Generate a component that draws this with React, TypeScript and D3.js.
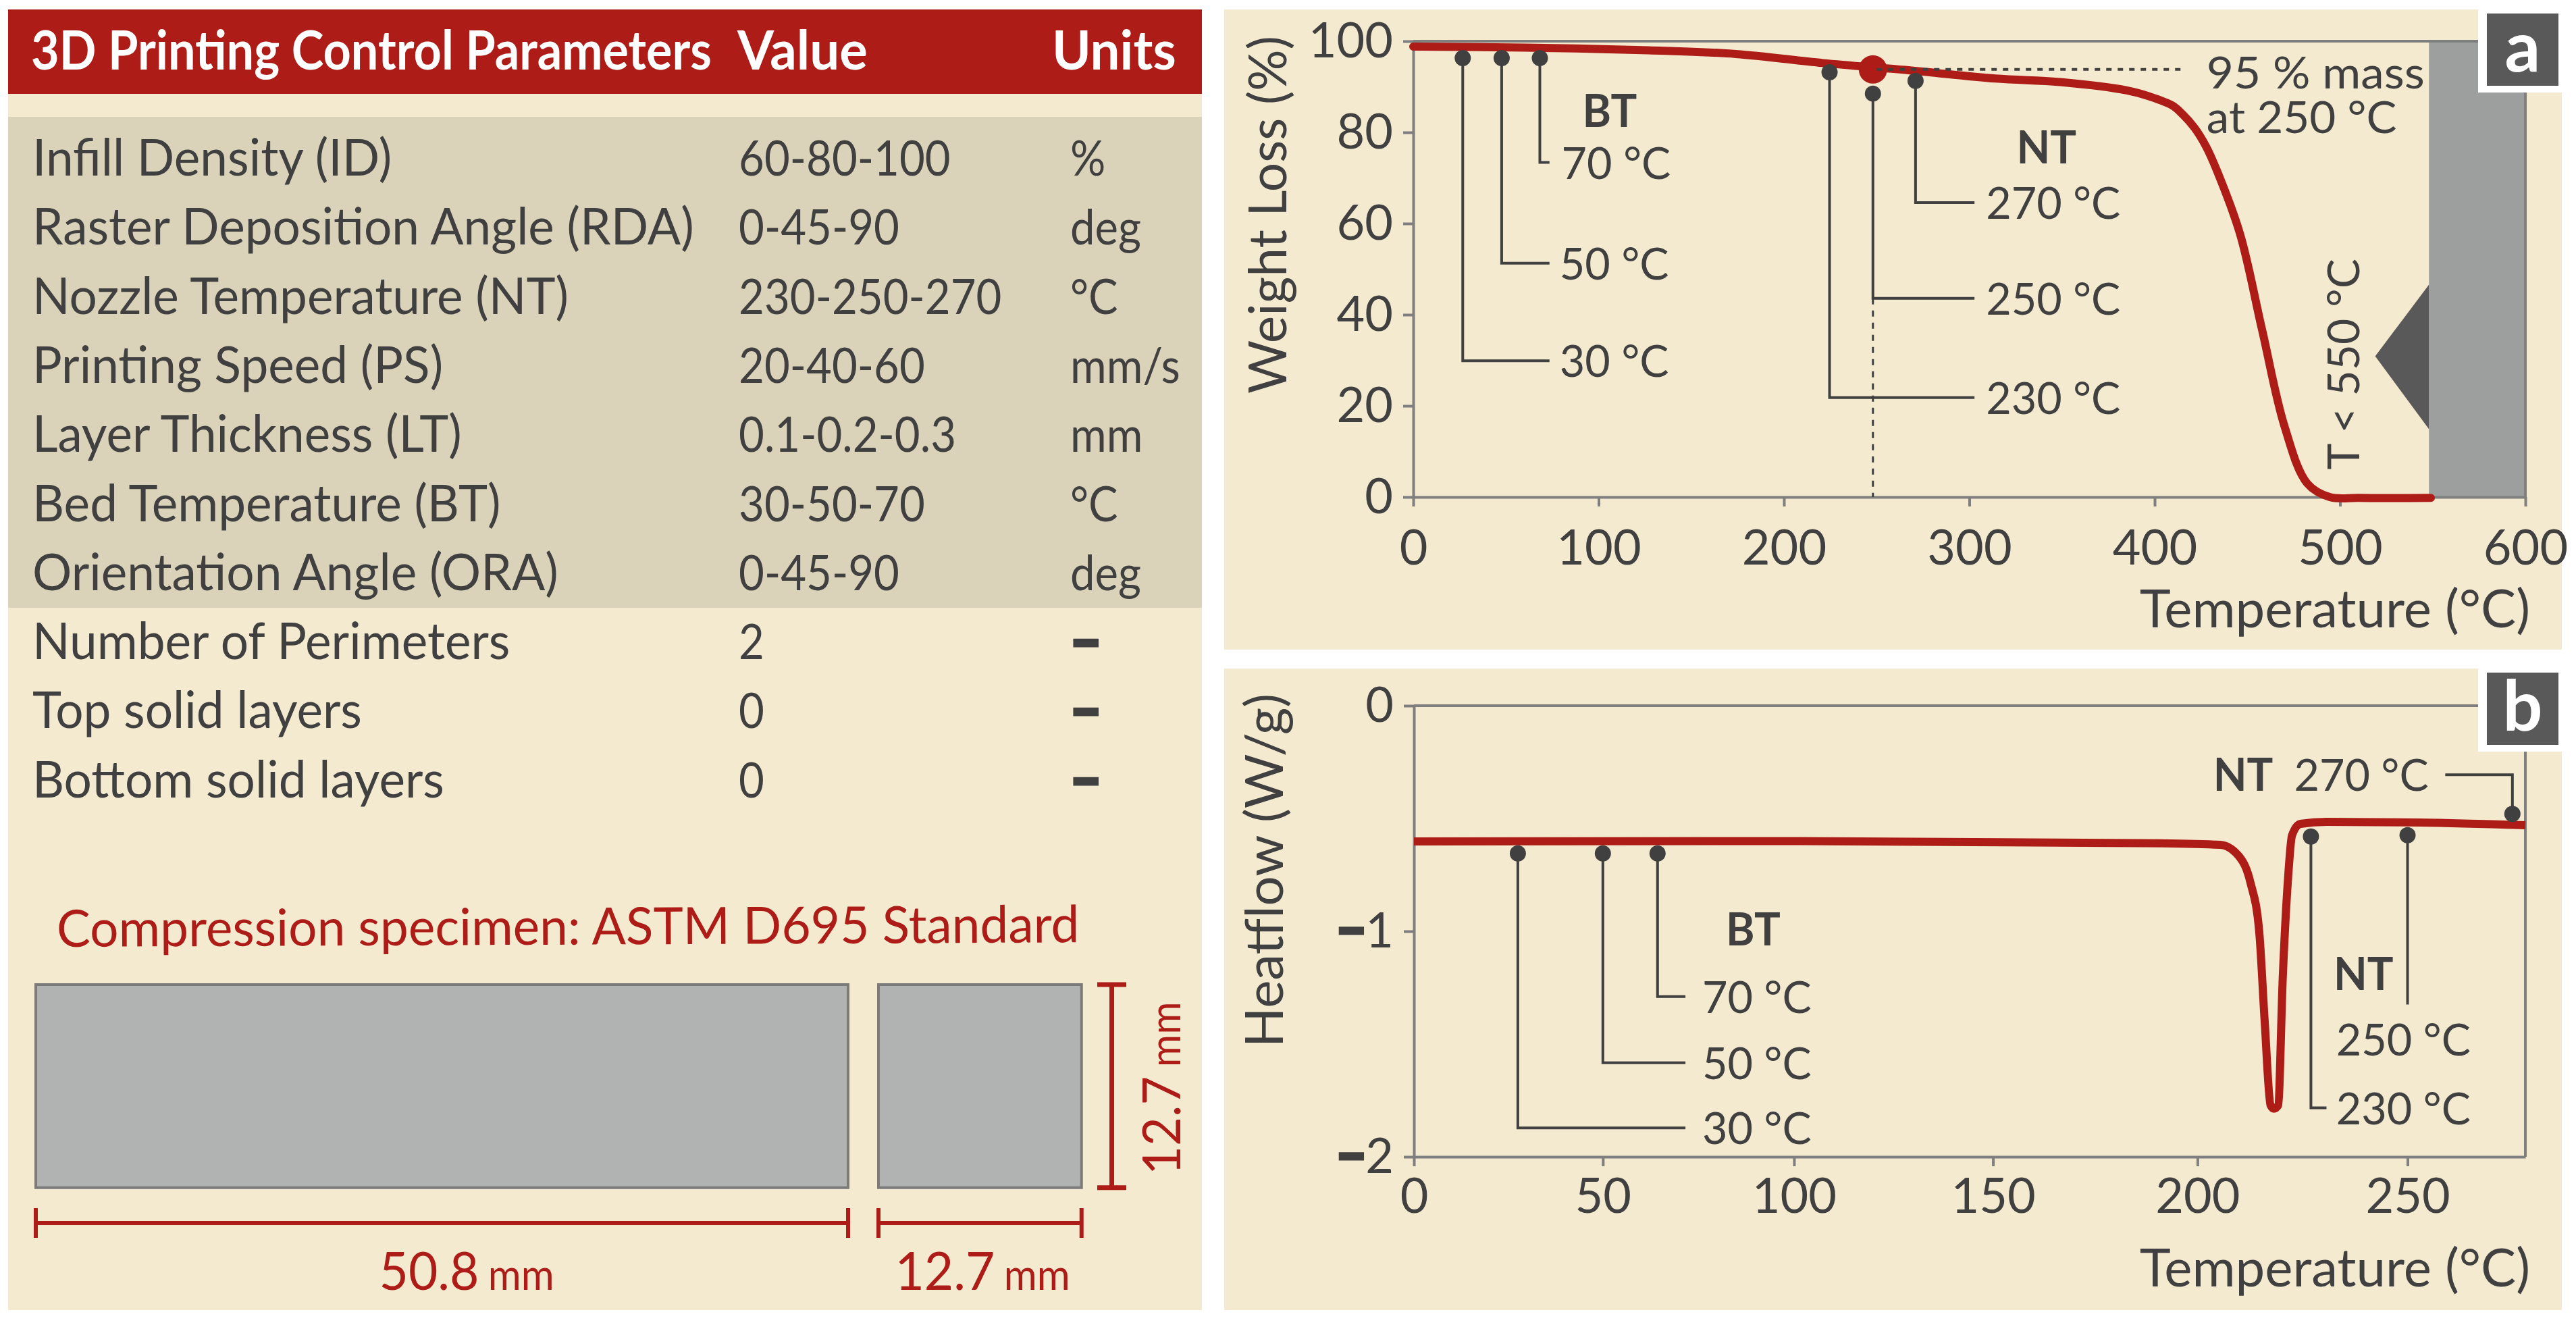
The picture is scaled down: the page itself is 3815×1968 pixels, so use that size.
import React, { useRef, useEffect } from 'react';
import * as d3 from 'd3';

const controlRows = [
  ['Infill Density (ID)', '60-80-100', '%'],
  ['Raster Deposition Angle (RDA)', '0-45-90', 'deg'],
  ['Nozzle Temperature (NT)', '230-250-270', '°C'],
  ['Printing Speed (PS)', '20-40-60', 'mm/s'],
  ['Layer Thickness (LT)', '0.1-0.2-0.3', 'mm'],
  ['Bed Temperature (BT)', '30-50-70', '°C'],
  ['Orientation Angle (ORA)', '0-45-90', 'deg'],
];
const fixedRows = [
  ['Number of Perimeters', '2', '–'],
  ['Top solid layers', '0', '–'],
  ['Bottom solid layers', '0', '–'],
];

const specimenLengths = [50.8, 12.7];
const specimenHeight = 12.7;

// TGA curve
const weightTemps = [0, 60, 127, 174, 221, 268, 314, 350, 385, 397, 409.5, 415, 421.5, 427.6, 433.5, 446, 458, 470, 482.3, 494.4, 510, 549];
const weightValues = [98.8, 98.6, 98, 97.2, 95.2, 93.6, 91.8, 91, 89.2, 87.9, 85.9, 84, 81, 77, 71.7, 57.8, 36.6, 15.6, 3, 0, -0.2, -0.2];
const weightTicksX = [0, 100, 200, 300, 400, 500, 600];
const weightTicksY = [0, 20, 40, 60, 80, 100];
const weightLeaders = [
  { label: '30 °C', x: 26.7, y: 96.3, elbow: 29.9, end: 73.5, textX: 79 },
  { label: '50 °C', x: 47.7, y: 96.3, elbow: 51.3, end: 73.5, textX: 79 },
  { label: '70 °C', x: 68.3, y: 96.3, elbow: 73.4, end: 73.5, textX: 80 },
  { label: '230 °C', x: 224.6, y: 93.2, elbow: 21.8, end: 302.8, textX: 309 },
  { label: '250 °C', x: 248, y: 88.5, elbow: 43.6, end: 302.8, textX: 309 },
  { label: '270 °C', x: 271, y: 91.3, elbow: 64.6, end: 302.8, textX: 309 },
];

// DSC curve
const heatTemps = [0, 100, 191, 205.4, 209.9, 212.6, 214.7, 216, 217.4, 218.2, 219.2, 220.3, 221.6, 222.5, 224.5, 230.8, 253, 280];
const heatValues = [-0.602, -0.6, -0.61, -0.617, -0.668, -0.784, -1.003, -1.401, -1.772, -1.787, -1.772, -1.204, -0.754, -0.575, -0.524, -0.515, -0.518, -0.53];
const heatTicksX = [0, 50, 100, 150, 200, 250];
const heatTicksY = [0, -1, -2];
// the source's temperature axis is not evenly spaced, so it is calibrated per tick
const heatScaleDomain = [0, 50, 100, 150, 200, 250, 280];
const heatScaleFractions = [0, 0.17, 0.342, 0.521, 0.705, 0.894, 1];
const heatLeaders = [
  { label: '30 °C', x: 27.5, y: -0.655, elbow: -1.872, end: 71.6, textX: 76 },
  { label: '50 °C', x: 50, y: -0.655, elbow: -1.583, end: 71.6, textX: 76 },
  { label: '70 °C', x: 64.3, y: -0.655, elbow: -1.29, end: 71.6, textX: 76 },
  { label: '230 °C', x: 227, y: -0.58, elbow: -1.783, end: 230.7, textX: 233 },
];

const RED = '#ae1c17';
const INK = '#404040';
const AXIS = '#7f7f7f';
const FONT = 'Lato, sans-serif';

type Sel = d3.Selection<any, unknown, null, undefined>;

const put = (g: Sel, str: string, x: number, y: number, o: any = {}) => {
  const { size = 66, anchor = 'start', weight = 400, fill = INK, rotate = 0, sx = 0.98 } = o;
  return g.append('text')
    .attr('transform', `translate(${x},${y}) rotate(${rotate}) scale(${sx},1)`)
    .attr('font-family', FONT)
    .attr('font-size', size)
    .attr('font-weight', weight)
    .attr('text-anchor', anchor)
    .attr('fill', fill)
    .text(str);
};

const styleAxis = (a: Sel) => {
  a.selectAll('path,line').attr('stroke', AXIS).attr('stroke-width', 4);
  a.selectAll('text').attr('font-family', FONT).attr('font-size', 72).attr('fill', INK);
};

const drawLeaders = (g: Sel, x: any, y: any, leaders: typeof weightLeaders) => {
  leaders.forEach(d => {
    g.append('path')
      .attr('d', d3.line()([[x(d.x), y(d.y)], [x(d.x), y(d.elbow)], [x(d.end), y(d.elbow)]]))
      .attr('fill', 'none').attr('stroke', INK).attr('stroke-width', 4);
    g.append('circle').attr('cx', x(d.x)).attr('cy', y(d.y)).attr('r', 12).attr('fill', INK);
    put(g, d.label, x(d.textX), y(d.elbow) + 24);
  });
};

const tag = (g: Sel, letter: string, top: number, bottom: number) => {
  g.append('rect').attr('x', 3670).attr('y', top).attr('width', 124).attr('height', bottom - top).attr('fill', '#fff');
  g.append('rect').attr('x', 3683).attr('y', top + 6).attr('width', 106).attr('height', bottom - top - 16).attr('fill', '#595959');
  put(g, letter, 3736, (top + bottom) / 2 + 30, { size: 104, anchor: 'middle', weight: 700, fill: '#fff', sx: 1 });
};

const App: React.FC = () => {
  const ref = useRef<SVGSVGElement>(null);

  useEffect(() => {
    const svg: Sel = d3.select(ref.current);
    svg.selectAll('*').remove();

    // ---- left panel: table
    const left = svg.append('g');
    left.append('rect').attr('x', 12).attr('y', 139).attr('width', 1768).attr('height', 1801).attr('fill', '#f4ead0');
    left.append('rect').attr('x', 12).attr('y', 14).attr('width', 1768).attr('height', 125).attr('fill', RED);
    left.append('rect').attr('x', 12).attr('y', 173).attr('width', 1768).attr('height', 727).attr('fill', '#dbd3b9');

    const hdr = { size: 80, weight: 700, fill: '#fff' };
    put(left, '3D Printing Control Parameters', 46, 103, { ...hdr, sx: 0.9 });
    put(left, 'Value', 1092, 103, { ...hdr, sx: 0.975 });
    put(left, 'Units', 1558, 103, { ...hdr, sx: 0.975 });

    const rowY = d3.scaleLinear().domain([0, 1]).range([260, 362.3]);
    [...controlRows, ...fixedRows].forEach((r, i) => {
      const digits = { size: 71, sx: 0.92 };
      put(left, r[0], 48, rowY(i), { size: 76, sx: 0.96 });
      put(left, r[1], 1094, rowY(i), digits);
      if (r[2] === '–') {
        put(left, r[2], 1585, rowY(i), { size: 80, weight: 900, sx: 1 }).attr('stroke', INK).attr('stroke-width', 5);
      } else {
        put(left, r[2], 1585, rowY(i), digits);
      }
    });

    // ---- left panel: specimen drawing
    put(left, 'Compression specimen: ASTM D695 Standard', 84, 1402, { size: 76, fill: RED, sx: 0.985, rotate: -0.25 });
    const mm = d3.scaleLinear().domain([0, 50.8]).range([0, 1203]);
    const specY = 1458;
    const specH = mm(specimenHeight);
    const dimY = 1811;
    const labelShift = [-93, -126];
    let cursor = 53;
    specimenLengths.forEach((len, i) => {
      const w = mm(len);
      left.append('rect').attr('x', cursor).attr('y', specY).attr('width', w).attr('height', specH)
        .attr('fill', '#b0b3b1').attr('stroke', '#7b7b7b').attr('stroke-width', 4);
      left.append('path').attr('d', `M${cursor},${dimY - 22}V${dimY + 22}M${cursor},${dimY}H${cursor + w}M${cursor + w},${dimY - 22}V${dimY + 22}`)
        .attr('fill', 'none').attr('stroke', RED).attr('stroke-width', 6);
      const t = put(left, String(len), cursor + w / 2 + labelShift[i], 1910, { size: 78, fill: RED, sx: 0.96 });
      t.append('tspan').attr('font-size', 62).attr('dx', 14).text('mm');
      cursor += w + 45;
    });
    left.append('path').attr('d', `M1625,${specY}H1668M1646.5,${specY}V${specY + specH}M1625,${specY + specH}H1668`)
      .attr('fill', 'none').attr('stroke', RED).attr('stroke-width', 7);
    const vert = put(left, '12.7', 1748, 1740, { size: 78, fill: RED, rotate: -90, sx: 0.95 });
    vert.append('tspan').attr('font-size', 62).attr('dx', 14).text('mm');

    // ---- panel a
    const a = svg.append('g');
    a.append('rect').attr('x', 1813).attr('y', 14).attr('width', 1981).attr('height', 948).attr('fill', '#f4ead0');
    const xA = d3.scaleLinear().domain([0, 600]).range([2093, 3740]);
    const yA = d3.scaleLinear().domain([0, 100]).range([736, 61]);

    a.append('rect').attr('x', xA(548)).attr('y', yA(100)).attr('width', xA(600) - xA(548)).attr('height', yA(0) - yA(100)).attr('fill', '#9d9e9e');
    a.append('path').attr('d', d3.line()([[xA(548), yA(46.6)], [xA(519), yA(30.9)], [xA(548), yA(14.9)]]) + 'Z').attr('fill', '#595959');

    const axA = a.append('g').attr('transform', `translate(0,${yA(0)})`)
      .call(d3.axisBottom(xA).tickValues(weightTicksX).tickSize(14).tickSizeOuter(0).tickPadding(35).tickFormat(d3.format('d')));
    const ayA = a.append('g').attr('transform', `translate(${xA(0)},0)`)
      .call(d3.axisLeft(yA).tickValues(weightTicksY).tickSize(15).tickSizeOuter(0).tickPadding(15).tickFormat(d3.format('d')));
    styleAxis(axA);
    styleAxis(ayA);
    a.append('path').attr('d', `M${xA(0)},${yA(100)}H${xA(600)}V${yA(0)}`).attr('fill', 'none').attr('stroke', AXIS).attr('stroke-width', 4);

    const lineA = d3.line<number>().x(d => xA(d)).y((_, i) => yA(weightValues[i])).curve(d3.curveCatmullRom.alpha(0.5));
    a.append('path').attr('d', lineA(weightTemps)).attr('fill', 'none').attr('stroke', RED).attr('stroke-width', 12).attr('stroke-linecap', 'round');

    drawLeaders(a, xA, yA, weightLeaders);
    a.append('path').attr('d', `M${xA(248)},${yA(43.6)}V${yA(0)}`).attr('stroke', INK).attr('stroke-width', 3).attr('stroke-dasharray', '9 9');
    a.append('circle').attr('cx', xA(248)).attr('cy', yA(93.8)).attr('r', 21).attr('fill', RED);
    a.append('path').attr('d', `M${xA(250)},${yA(93.8)}H${xA(417)}`).attr('stroke', INK).attr('stroke-width', 4).attr('stroke-dasharray', '8 9');

    put(a, 'BT', xA(106), yA(84.8) + 24, { anchor: 'middle', weight: 700 });
    put(a, 'NT', xA(341.6), yA(76.8) + 24, { anchor: 'middle', weight: 700 });
    put(a, '95 % mass', xA(428), yA(93.2) + 24, { sx: 1.05 });
    put(a, 'at 250 °C', xA(428), yA(83.4) + 24, { sx: 1.02 });
    put(a, 'T < 550 °C', xA(500) + 28, yA(6), { sx: 1, rotate: -90 });
    put(a, 'Temperature (°C)', 3747, 929, { size: 78, anchor: 'end', sx: 1 });
    put(a, 'Weight Loss (%)', 1905, 318, { size: 78, anchor: 'middle', rotate: -90, sx: 0.98 });
    tag(a, 'a', 14, 137);

    // ---- panel b
    const b = svg.append('g');
    b.append('rect').attr('x', 1813).attr('y', 990).attr('width', 1981).attr('height', 950).attr('fill', '#f4ead0');
    const xB = d3.scaleLinear().domain(heatScaleDomain).range(heatScaleFractions.map(f => 2094 + f * (3740 - 2094)));
    const yB = d3.scaleLinear().domain([-2, 0]).range([1713, 1045]);

    const axB = b.append('g').attr('transform', `translate(0,${yB(-2)})`)
      .call(d3.axisBottom(xB).tickValues(heatTicksX).tickSize(14).tickSizeOuter(0).tickPadding(18).tickFormat(d3.format('d')));
    const ayB = b.append('g').attr('transform', `translate(${xB(0)},0)`)
      .call(d3.axisLeft(yB).tickValues(heatTicksY).tickSize(15).tickSizeOuter(0).tickPadding(15).tickFormat((d: any) => String(Math.abs(d))));
    styleAxis(axB);
    styleAxis(ayB);
    ayB.selectAll('.tick text').each(function (d: any) {
      if (d >= 0) return;
      const t = d3.select(this as any);
      const v = t.text();
      t.text(null);
      t.append('tspan').attr('font-weight', 900).attr('stroke', INK).attr('stroke-width', 5).text('−');
      t.append('tspan').text(v);
    });
    b.append('path').attr('d', `M${xB(0)},${yB(0)}H${xB(280)}V${yB(-2)}`).attr('fill', 'none').attr('stroke', AXIS).attr('stroke-width', 4);

    const lineB = d3.line<number>().x(d => xB(d)).y((_, i) => yB(heatValues[i])).curve(d3.curveMonotoneX);
    b.append('path').attr('d', lineB(heatTemps)).attr('fill', 'none').attr('stroke', RED).attr('stroke-width', 12);

    drawLeaders(b, xB, yB, heatLeaders);
    // 250 and 270 leaders do not share the elbow shape of the others
    b.append('path').attr('d', d3.line()([[xB(250), yB(-0.574)], [xB(250), yB(-1.325)]])).attr('stroke', INK).attr('stroke-width', 4);
    b.append('circle').attr('cx', xB(250)).attr('cy', yB(-0.574)).attr('r', 12).attr('fill', INK);
    b.append('path').attr('d', d3.line()([[xB(276.7), yB(-0.48)], [xB(276.7), yB(-0.306)], [xB(259.6), yB(-0.306)]]))
      .attr('fill', 'none').attr('stroke', INK).attr('stroke-width', 4);
    b.append('circle').attr('cx', xB(276.7)).attr('cy', yB(-0.48)).attr('r', 12).attr('fill', INK);

    put(b, 'BT', xB(89.3), yB(-0.99) + 24, { anchor: 'middle', weight: 700 });
    put(b, 'NT', xB(239.5), yB(-1.19) + 24, { anchor: 'middle', weight: 700 });
    put(b, '250 °C', xB(233), yB(-1.48) + 24);
    put(b, 'NT', xB(218), yB(-0.306) + 24, { anchor: 'end', weight: 700 });
    put(b, '270 °C', xB(223), yB(-0.306) + 24);
    put(b, 'Temperature (°C)', 3747, 1905, { size: 78, anchor: 'end', sx: 1 });
    put(b, 'Heatflow (W/g)', 1900, 1289, { size: 78, anchor: 'middle', rotate: -90, sx: 1 });
    tag(b, 'b', 990, 1113);
  }, []);

  return (
    <svg ref={ref} width={3815} height={1968} style={{ position: 'absolute', left: 0, top: 0, background: '#fff' }} />
  );
};

export default App;
